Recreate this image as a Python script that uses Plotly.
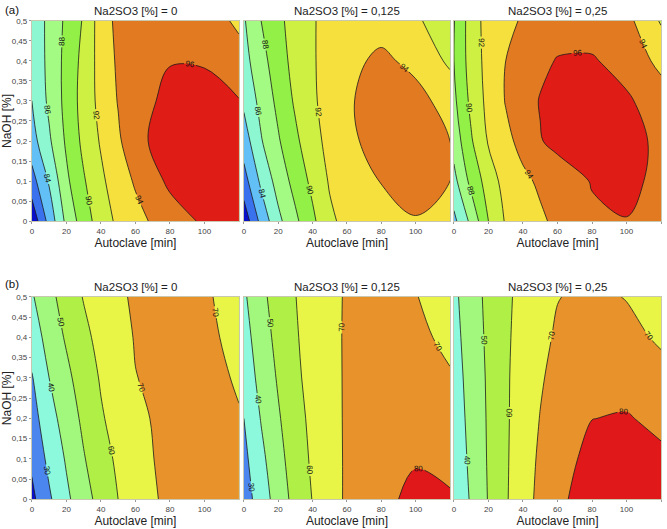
import plotly.graph_objects as go
from plotly.subplots import make_subplots

# ---------------- data ----------------
autoclave = [0, 10, 20, 30, 40, 50, 60, 80, 100, 120]      # min
naoh = [0, 0.1, 0.2, 0.3, 0.4, 0.5]                         # %
panel_titles = ["Na2SO3 [%] = 0", "Na2SO3 [%] = 0,125", "Na2SO3 [%] = 0,25"]
x_ticks_short = [0, 20, 40, 60, 80, 100]
x_ticks_full = [0, 20, 40, 60, 80, 100, 120]

# (a) rows = NaOH levels, columns = autoclave times
a_na0 = [
    [78.5, 82.7, 86.5, 89.0, 91.0, 92.4, 93.4, 95.0, 96.3, 96.8],
    [81.2, 84.2, 87.6, 89.8, 91.6, 93.1, 94.2, 96.4, 97.4, 97.2],
    [83.2, 85.7, 88.3, 90.5, 92.2, 93.7, 95.3, 97.2, 97.6, 97.0],
    [84.0, 86.4, 88.6, 90.8, 92.6, 94.1, 95.1, 96.6, 96.9, 96.1],
    [84.5, 86.5, 88.6, 90.6, 92.8, 94.3, 95.1, 95.9, 95.8, 94.6],
    [84.6, 86.5, 88.4, 90.2, 93.0, 94.5, 94.9, 95.2, 94.8, 93.7],
]
a_na125 = [
    [78.7, 82.6, 85.5, 87.6, 89.6, 91.6, 92.6, 93.5, 93.9, 93.5],
    [81.2, 84.4, 86.8, 88.7, 90.5, 92.2, 93.1, 94.05, 94.6, 94.0],
    [83.0, 85.85, 87.8, 89.6, 91.3, 92.6, 93.6, 94.7, 94.8, 94.0],
    [84.4, 86.6, 88.5, 90.3, 91.7, 92.8, 93.8, 94.7, 94.5, 93.4],
    [85.3, 87.3, 89.1, 90.7, 91.8, 92.8, 93.6, 94.3, 93.6, 91.6],
    [85.8, 88.0, 89.5, 90.9, 91.85, 92.6, 93.1, 93.4, 92.4, 90.4],
]
a_na25 = [
    [83.5, 86.5, 90.0, 92.2, 93.0, 93.7, 94.4, 95.7, 95.95, 95.2],
    [85.4, 88.6, 90.9, 92.8, 93.6, 94.3, 95.0, 96.1, 96.4, 95.6],
    [86.8, 89.8, 92.2, 93.5, 94.6, 95.9, 96.5, 97.0, 96.8, 95.5],
    [87.6, 90.5, 92.6, 94.1, 95.2, 96.1, 96.6, 96.8, 96.3, 94.9],
    [88.0, 90.9, 92.7, 94.0, 95.0, 95.6, 96.1, 96.2, 95.2, 93.5],
    [87.9, 91.0, 92.8, 93.5, 94.2, 94.8, 95.2, 95.0, 94.6, 91.8],
]
# (b)
b_na0 = [
    [17.5, 28.5, 38.0, 46.0, 53.5, 60.0, 65.0, 72.5, 74.5, 74.0],
    [22.0, 32.5, 41.0, 49.3, 56.0, 61.8, 66.5, 73.0, 73.8, 72.5],
    [26.0, 36.0, 44.5, 52.0, 59.0, 63.5, 68.2, 72.5, 72.5, 70.3],
    [29.3, 40.0, 47.5, 55.0, 60.8, 65.0, 69.8, 72.3, 71.5, 69.5],
    [34.5, 43.8, 51.2, 57.5, 63.0, 67.0, 70.5, 72.0, 71.2, 68.5],
    [39.0, 47.0, 54.5, 60.5, 64.5, 68.8, 71.0, 72.0, 71.0, 67.0],
]
b_na125 = [
    [25.0, 35.0, 44.3, 53.5, 60.3, 66.5, 71.2, 77.5, 82.5, 81.0],
    [27.5, 37.5, 46.8, 55.0, 61.5, 66.5, 71.2, 76.5, 79.2, 77.5],
    [30.0, 40.5, 49.0, 56.3, 62.5, 66.8, 71.2, 75.5, 76.5, 74.0],
    [33.0, 43.5, 51.0, 58.0, 63.5, 67.0, 71.2, 74.0, 73.5, 70.6],
    [36.0, 45.5, 52.8, 59.0, 64.2, 67.2, 71.2, 73.0, 71.5, 68.5],
    [38.5, 47.5, 54.5, 59.8, 64.8, 67.3, 71.0, 72.2, 70.3, 66.5],
]
b_na25 = [
    [33.0, 41.0, 50.6, 59.0, 66.0, 72.5, 78.0, 84.5, 86.5, 85.0],
    [34.0, 42.0, 51.0, 58.8, 65.5, 71.5, 76.5, 82.5, 84.0, 81.6],
    [35.0, 42.8, 51.2, 58.7, 64.8, 70.3, 74.8, 79.9, 80.6, 78.0],
    [36.0, 43.5, 51.5, 58.7, 64.3, 69.0, 73.0, 77.0, 77.0, 73.5],
    [37.0, 44.5, 52.0, 58.5, 63.5, 67.5, 71.3, 74.5, 73.0, 68.5],
    [38.0, 45.5, 52.5, 58.2, 62.8, 66.5, 69.7, 72.2, 69.6, 64.0],
]

# contour levels
a_levels = dict(start=80, end=96, size=2)
b_levels = dict(start=20, end=80, size=10)

a_colors = ["#0a10c8", "#3a72ee", "#62c0f6", "#8cf7d0", "#a4fb84",
            "#92f046", "#cdf042", "#f6e03e", "#e27a22", "#e01c16"]
b_colors = ["#0a10c8", "#4a86ee", "#8cf8dc", "#a2f87c",
            "#b0f046", "#e8f546", "#e8922c", "#e0181a"]


def step_scale(colors):
    n = len(colors)
    scale = []
    for i, c in enumerate(colors):
        scale.append([i / n, c])
        scale.append([(i + 1) / n, c])
    return scale


FONT = "Liberation Sans, Arial, sans-serif"

# ---------------- figure ----------------
W, H = 667, 529
fig = make_subplots(rows=2, cols=3)

x_px = [(29, 237), (242, 449), (453, 661)]
y_px = [(17, 221), (298, 504)]

rows = [
    (a_levels, a_colors, [a_na0, a_na125, a_na25]),
    (b_levels, b_colors, [b_na0, b_na125, b_na25]),
]

for r, (lev, cols, zs) in enumerate(rows):
    zmin = lev["start"] - lev["size"] / 2
    zmax = lev["end"] + lev["size"] / 2
    for c, z in enumerate(zs):
        fig.add_trace(
            go.Contour(
                x=autoclave, y=naoh, z=z,
                contours=dict(start=lev["start"], end=lev["end"], size=lev["size"],
                              coloring="fill", showlabels=True,
                              labelfont=dict(size=8, color="#111", family=FONT)),
                autocontour=False,
                colorscale=step_scale(cols), zmin=zmin, zmax=zmax,
                line=dict(color="#1a1a1a", width=0.8, smoothing=1.0),
                showscale=False, hoverinfo="skip",
            ),
            row=r + 1, col=c + 1,
        )

axis_font = dict(family=FONT, size=8, color="#444")
for r in range(2):
    for c in range(3):
        idx = r * 3 + c + 1
        xa = "xaxis" if idx == 1 else f"xaxis{idx}"
        ya = "yaxis" if idx == 1 else f"yaxis{idx}"
        x0, x1 = x_px[c]
        y0, y1 = y_px[r]
        fig.layout[xa].update(
            domain=[x0 / W, x1 / W], range=[0, 120],
            tickvals=x_ticks_full if c == 2 else x_ticks_short,
            ticks="outside", ticklen=2, tickcolor="#999", tickfont=axis_font,
            showline=True, linecolor="#c8c8b0", linewidth=1, mirror=True,
            showgrid=False, zeroline=False,
            title=dict(text="Autoclave [min]", standoff=1,
                       font=dict(family=FONT, size=12, color="#222")),
        )
        fig.layout[ya].update(
            domain=[1 - y1 / H, 1 - y0 / H], range=[0, 0.5],
            dtick=0.05, tick0=0,
            ticks="outside" if c == 0 else "", ticklen=2, tickcolor="#999",
            showticklabels=(c == 0), tickfont=axis_font,
            showline=True, linecolor="#c8c8b0", linewidth=1, mirror=True,
            showgrid=False, zeroline=False,
            title=dict(text="NaOH [%]" if c == 0 else "", standoff=3,
                       font=dict(family=FONT, size=12, color="#222")),
        )

annotations = []
for r in range(2):
    y0 = y_px[r][0]
    for c in range(3):
        x0, x1 = x_px[c]
        annotations.append(dict(
            text=panel_titles[c], x=(x0 + x1) / 2 / W, y=1 - (y0 - 2) / H,
            xref="paper", yref="paper", xanchor="center", yanchor="bottom",
            showarrow=False,
            font=dict(family=FONT, size=11.5, color="#222")))
for lab, ypx in (("(a)", -2), ("(b)", 277)):
    annotations.append(dict(
        text=lab, x=0, y=1 - ypx / H, xref="paper", yref="paper",
        xanchor="left", yanchor="top", showarrow=False,
        font=dict(family=FONT, size=11.5, color="#111")))

fig.update_layout(
    width=W, height=H, margin=dict(l=0, r=0, t=0, b=0),
    paper_bgcolor="white", plot_bgcolor="white",
    separators=", ", showlegend=False,
    annotations=annotations,
)

fig.write_html(
    "out.html",
    config={"displayModeBar": False},
    post_script="document.body.style.margin='0';document.body.style.padding='0';",
)
